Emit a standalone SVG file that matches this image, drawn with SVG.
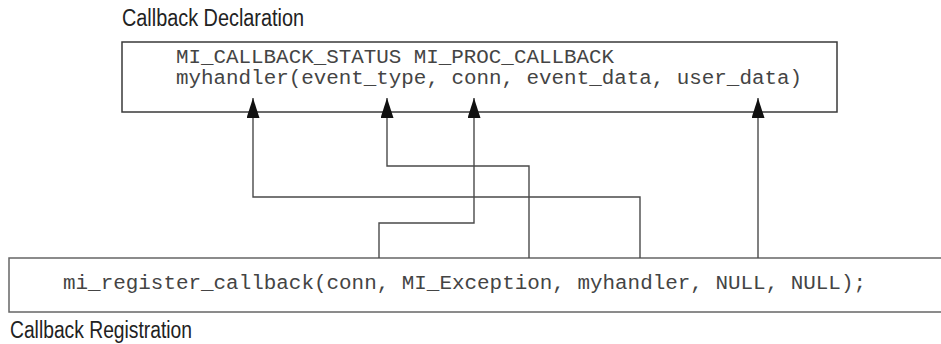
<svg xmlns="http://www.w3.org/2000/svg" width="941" height="344" viewBox="0 0 941 344">
<style>
.box{fill:#fff;stroke:#3a3a3a;stroke-width:1.5}
.code{font-family:"Liberation Mono","Courier New",monospace;font-size:19.5px;fill:#444}
.label{font-family:"Liberation Sans",Arial,sans-serif;font-size:23px;fill:#222}
.conn{fill:none;stroke:#4a4a4a;stroke-width:1.4}
</style>
<defs>
<marker id="arr" markerUnits="userSpaceOnUse" markerWidth="20" markerHeight="13" viewBox="0 -6.5 20 13" refX="20" refY="0" orient="auto">
<path d="M0,-6.5 L20,0 L0,6.5 z" fill="#111"/>
</marker>
</defs>
<rect width="941" height="344" fill="#fff"/>
<g id="decl">
<text class="label" x="122" y="26" textLength="182" lengthAdjust="spacingAndGlyphs">Callback Declaration</text>
<rect class="box" x="122" y="42" width="715" height="70"/>
<text class="code" x="176" y="63" textLength="438" lengthAdjust="spacingAndGlyphs">MI_CALLBACK_STATUS MI_PROC_CALLBACK</text>
<text class="code" x="176" y="84" textLength="626" lengthAdjust="spacingAndGlyphs">myhandler(event_type, conn, event_data, user_data)</text>
</g>
<g id="reg">
<rect class="box" x="9" y="258" width="940" height="54" style="stroke:#666"/>
<text class="code" x="63" y="289" textLength="803" lengthAdjust="spacingAndGlyphs">mi_register_callback(conn, MI_Exception, myhandler, NULL, NULL);</text>
<text class="label" x="10" y="338" textLength="182" lengthAdjust="spacingAndGlyphs">Callback Registration</text>
</g>
<g id="connectors">
<path class="conn" d="M640,258 V197 H253 V98" marker-end="url(#arr)"/>
<path class="conn" d="M529,258 V166 H387 V98" marker-end="url(#arr)"/>
<path class="conn" d="M379,258 V223 H474 V98" marker-end="url(#arr)"/>
<path class="conn" d="M758,258 V98" marker-end="url(#arr)"/>
</g>
</svg>
